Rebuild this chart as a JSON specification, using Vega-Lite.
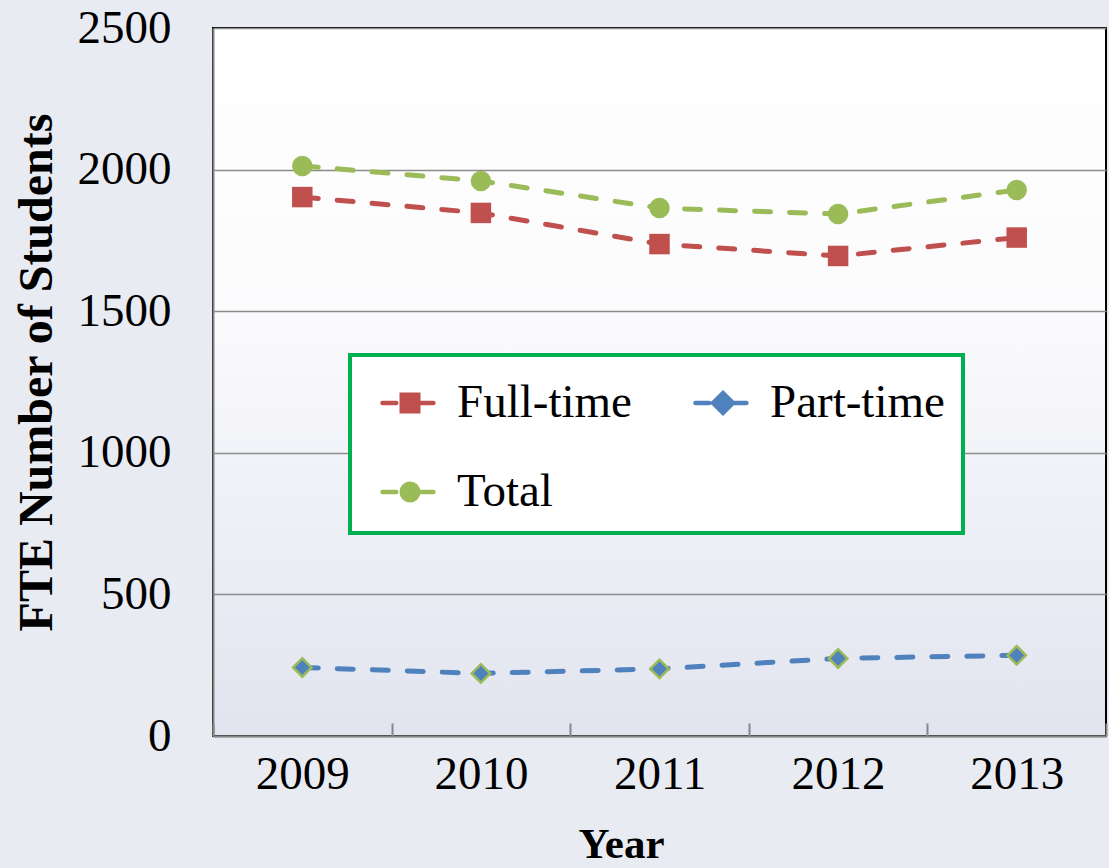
{
  "$schema": "https://vega.github.io/schema/vega-lite/v6.json",
  "width": 893,
  "height": 708,
  "autosize": {"type": "none"},
  "padding": {"left": 213, "top": 28, "right": 3, "bottom": 132},
  "background": "#e9ebf3",
  "config": {
    "font": "Liberation Serif",
    "view": {
      "fill": {"gradient": "linear", "x1": 0, "y1": 0, "x2": 0, "y2": 1,
        "stops": [{"offset": 0, "color": "#ffffff"}, {"offset": 0.4, "color": "#fbfbfd"}, {"offset": 1, "color": "#e1e4ef"}]},
      "stroke": "#000000",
      "strokeWidth": 2
    }
  },
  "data": {
    "values": [
      {"year": "2009", "series": "Full-time", "value": 1903},
      {"year": "2010", "series": "Full-time", "value": 1847},
      {"year": "2011", "series": "Full-time", "value": 1737},
      {"year": "2012", "series": "Full-time", "value": 1695},
      {"year": "2013", "series": "Full-time", "value": 1760},
      {"year": "2009", "series": "Part-time", "value": 242},
      {"year": "2010", "series": "Part-time", "value": 221},
      {"year": "2011", "series": "Part-time", "value": 237},
      {"year": "2012", "series": "Part-time", "value": 274},
      {"year": "2013", "series": "Part-time", "value": 285},
      {"year": "2009", "series": "Total", "value": 2013},
      {"year": "2010", "series": "Total", "value": 1960},
      {"year": "2011", "series": "Total", "value": 1864},
      {"year": "2012", "series": "Total", "value": 1843},
      {"year": "2013", "series": "Total", "value": 1928}
    ]
  },
  "encoding": {
    "x": {
      "field": "year", "type": "ordinal",
      "scale": {"paddingInner": 0, "paddingOuter": 0},
      "axis": {
        "title": "Year", "titleFontSize": 43, "titleFontWeight": "bold", "titleColor": "#000000",
        "titleX": 408, "titleY": 121, "titleBaseline": "alphabetic",
        "labelAngle": 0, "labelFontSize": 47, "labelColor": "#000000", "labelPadding": 28,
        "domainColor": "#868686", "domainWidth": 2,
        "ticks": true, "tickBand": "extent", "tickSize": -13, "tickColor": "#868686", "tickWidth": 2,
        "grid": false
      }
    },
    "y": {
      "field": "value", "type": "quantitative",
      "scale": {"domain": [0, 2500]},
      "axis": {
        "title": "FTE Number of Students", "titleFontSize": 48, "titleFontWeight": "bold", "titleColor": "#000000",
        "titleX": -162, "titleY": 344, "titleBaseline": "alphabetic", "titleAngle": -90,
        "labelFontSize": 47, "labelColor": "#000000", "labelPadding": 42, "format": "d",
        "ticks": false, "values": [0, 500, 1000, 1500, 2000, 2500],
        "domainColor": "#868686", "domainWidth": 2,
        "grid": true, "gridColor": "#8c8c8c", "gridWidth": 1.5
      }
    },
    "color": {
      "field": "series", "type": "nominal",
      "scale": {"domain": ["Full-time", "Part-time", "Total"], "range": ["#c0504d", "#4f81bd", "#9bbb59"]},
      "legend": {
        "title": null, "orient": "none", "legendX": 137, "legendY": 327,
        "direction": "horizontal", "columns": 2,
        "labelFont": "Liberation Serif", "labelFontSize": 47, "labelColor": "#000000", "labelOffset": 17, "labelLimit": 400,
        "symbolSize": 3025, "symbolStrokeWidth": 4.5, "symbolOffset": 12,
        "columnPadding": 49, "rowPadding": 36, "padding": 18,
        "strokeColor": "#00b050", "fillColor": "#ffffff",
        "encode": {
          "legend": {"update": {"strokeWidth": {"value": 4}}},
          "symbols": {
            "update": {
              "shape": {"signal": "datum.value === 'Full-time' ? 'M-1,0H-0.5M-0.3,-0.3H0.3V0.3H-0.3ZM0.3,0H0.85' : datum.value === 'Part-time' ? 'M-1,0H-0.5M0,-0.36L0.36,0L0,0.36L-0.36,0ZM0.36,0H0.85' : 'M-1,0H-0.5M-0.3,0a0.3,0.3 0 1,0 0.6,0a0.3,0.3 0 1,0 -0.6,0ZM0.3,0H0.85'"},
              "fill": {"signal": "datum.value === 'Full-time' ? '#c0504d' : datum.value === 'Part-time' ? '#4f81bd' : '#9bbb59'"},
              "stroke": {"signal": "datum.value === 'Full-time' ? '#c0504d' : datum.value === 'Part-time' ? '#4f81bd' : '#9bbb59'"},
              "strokeCap": {"value": "round"},
              "opacity": {"value": 1}
            }
          }
        }
      }
    }
  },
  "layer": [
    {
      "mark": {"type": "line", "strokeDash": [16, 19], "strokeWidth": 5, "strokeCap": "round"}
    },
    {
      "mark": {"type": "point", "filled": true, "opacity": 1, "strokeWidth": 2.5},
      "encoding": {
        "shape": {"condition": [{"test": "datum.series === 'Full-time'", "value": "square"}, {"test": "datum.series === 'Part-time'", "value": "diamond"}], "value": "circle"},
        "size": {"condition": {"test": "datum.series === 'Part-time'", "value": 340}, "value": 420},
        "stroke": {"condition": {"test": "datum.series === 'Part-time'", "value": "#9bbb59"}, "value": "transparent"}
      }
    }
  ]
}
